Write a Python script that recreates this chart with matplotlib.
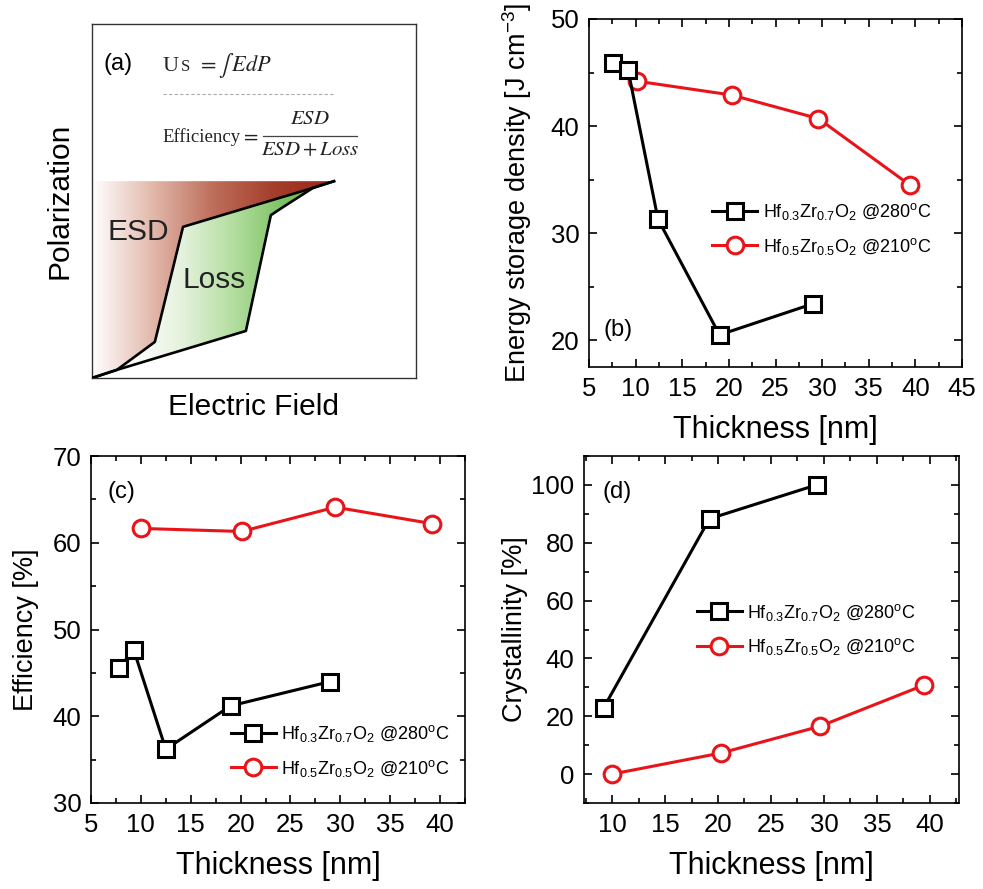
import numpy as np
import matplotlib
matplotlib.use("Agg")
from matplotlib import pyplot as plt
from matplotlib.patches import Polygon
from matplotlib.colors import LinearSegmentedColormap
from matplotlib.ticker import MultipleLocator

plt.rcParams['font.family'] = ['Liberation Sans', 'DejaVu Sans']
plt.rcParams['mathtext.fontset'] = 'custom'
plt.rcParams['mathtext.rm'] = 'Liberation Sans'
plt.rcParams['mathtext.it'] = 'Liberation Sans:italic'
plt.rcParams['mathtext.bf'] = 'Liberation Sans:bold'

# Sketch of the P-E loop (axes units 0..1)
upper_e = [0.0, 0.077, 0.194, 0.281, 0.682, 0.747]
upper_p = [0.0, 0.023, 0.102, 0.427, 0.537, 0.556]
lower_e = [0.747, 0.682, 0.59, 0.552, 0.475, 0.077, 0.0]
lower_p = [0.556, 0.537, 0.483, 0.460, 0.133, 0.023, 0.0]

# Hf0.3Zr0.7O2 @280C
t_hzo37 = [7.6, 9.2, 12.4, 19.0, 29.0]
esd_hzo37 = [45.9, 45.2, 31.3, 20.5, 23.4]
t_hzo37_eff = [7.8, 9.3, 12.5, 19.0, 29.0]
eff_hzo37 = [45.6, 47.6, 36.2, 41.2, 44.0]
t_hzo37_cr = [9.2, 19.2, 29.3]
cr_hzo37 = [22.9, 88.3, 100.0]

# Hf0.5Zr0.5O2 @210C
t_hzo55 = [10.1, 20.3, 29.6, 39.4]
esd_hzo55 = [44.2, 42.9, 40.7, 34.5]
t_hzo55_eff = [10.0, 20.1, 29.5, 39.2]
eff_hzo55 = [61.65, 61.3, 64.1, 62.2]
t_hzo55_cr = [10.0, 20.3, 29.6, 39.4]
cr_hzo55 = [0.0, 7.3, 16.5, 30.7]

lab37 = r'Hf$_{0.3}$Zr$_{0.7}$O$_2$ @280$^{\mathrm{o}}$C'
lab55 = r'Hf$_{0.5}$Zr$_{0.5}$O$_2$ @210$^{\mathrm{o}}$C'

red = '#e8141a'
W, H = 983, 889
fig = plt.figure(figsize=(W/100, H/100), dpi=100)

def px_axes(x0, y0, x1, y1):
    return fig.add_axes([x0/W, 1-y1/H, (x1-x0)/W, (y1-y0)/H])

def style(ax):
    ax.tick_params(which='both', direction='in', top=True, right=True,
                   labelsize=18.5, width=1.2, pad=7)
    ax.tick_params(which='major', length=6)
    ax.tick_params(which='minor', length=3.5)
    for s in ax.spines.values():
        s.set_linewidth(1.2)

def plot_pair(ax, x1, y1, x2, y2):
    ax.plot(x1, y1, '-s', color='black', lw=2.2, ms=11, mfc='white',
            mec='black', mew=2.2, label=lab37, zorder=3)
    ax.plot(x2, y2, '-o', color=red, lw=2.2, ms=12, mfc='white',
            mec=red, mew=2.2, label=lab55, zorder=2)

def add_legend(ax, x, y):
    ax.legend(loc='center left', bbox_to_anchor=(x, y), frameon=False,
              fontsize=13, handlelength=2.5, handletextpad=0.3,
              borderpad=0, borderaxespad=0, labelspacing=0.75)

# (a) schematic
ax = px_axes(92, 24, 416, 378)
ax.set_xticks([])
ax.set_yticks([])
for s in ax.spines.values():
    s.set_linewidth(1.0)
    s.set_color('#333333')

tip_e, tip_p = upper_e[-1], upper_p[-1]
esd_poly = Polygon(list(zip(upper_e, upper_p)) + [(0, tip_p)], closed=True,
                   fc='none', ec='none', transform=ax.transData)
loss_poly = Polygon(list(zip(upper_e, upper_p)) + list(zip(lower_e, lower_p)),
                    closed=True, fc='none', ec='none', transform=ax.transData)
ax.add_patch(esd_poly)
ax.add_patch(loss_poly)

grad = np.linspace(0, 1, 256).reshape(1, -1)
red_cmap = LinearSegmentedColormap.from_list(
    'esd', ['#ffffff', '#e2b8ab', '#bd6e5a', '#a53e2c', '#9a2418'])
green_cmap = LinearSegmentedColormap.from_list(
    'loss', ['#ffffff', '#e4f2dd', '#b4dea0', '#7cc263', '#62b048'])
im1 = ax.imshow(grad, extent=[0, tip_e, 0, tip_p], cmap=red_cmap,
                aspect='auto', zorder=1)
im1.set_clip_path(esd_poly)
im2 = ax.imshow(grad, extent=[0.12, tip_e, 0, tip_p], cmap=green_cmap,
                aspect='auto', zorder=1)
im2.set_clip_path(loss_poly)
ax.set_xlim(0, 1)
ax.set_ylim(0, 1)

ax.plot(upper_e, upper_p, color='black', lw=1.9, zorder=3)
ax.plot(lower_e, lower_p, color='black', lw=1.9, zorder=3)

# formulas
serif = dict(family='Liberation Serif', math_fontfamily='stix', color='#222222')
ax.text(0.035, 0.887, '(a)', fontsize=17, va='center')
ax.text(0.219, 0.867, 'U', fontsize=16, va='baseline', **serif)
ax.text(0.274, 0.867, 'S', fontsize=12, va='baseline', **serif)
ax.text(0.325, 0.867, r'$= \int\, EdP$', fontsize=16, va='baseline', **serif)
ax.plot([0.219, 0.744], [0.802, 0.802], ls=(0, (3, 2)), color='#aaaaaa', lw=0.8)
ax.text(0.216, 0.667, 'Efficiency', fontsize=13.5, va='baseline', **serif)
ax.text(0.486, 0.667, r'$=$', fontsize=15, ha='center', va='baseline', **serif)
ax.plot([0.528, 0.818], [0.684, 0.684], color='#444444', lw=0.9)
ax.text(0.673, 0.731, r'$ESD$', fontsize=15, ha='center', va='center', **serif)
ax.text(0.673, 0.641, r'$ESD + Loss$', fontsize=15, ha='center', va='center', **serif)
ax.text(0.049, 0.412, 'ESD', fontsize=21.5, va='center', color='#222222')
ax.text(0.28, 0.277, 'Loss', fontsize=21.5, va='center', color='#222222')
ax.set_xlabel('Electric Field', fontsize=21.5, labelpad=11)
ax.set_ylabel('Polarization', fontsize=21.5, labelpad=13)

# (b) energy storage density
ax = px_axes(589, 19, 962, 367)
plot_pair(ax, t_hzo37, esd_hzo37, t_hzo55, esd_hzo55)
ax.set_xlim(5, 45)
ax.set_ylim(17.5, 50)
ax.xaxis.set_major_locator(MultipleLocator(5))
ax.xaxis.set_minor_locator(MultipleLocator(2.5))
ax.yaxis.set_major_locator(MultipleLocator(10))
ax.yaxis.set_minor_locator(MultipleLocator(5))
style(ax)
ax.set_xlabel('Thickness [nm]', fontsize=22, labelpad=10)
ax.set_ylabel(r'Energy storage density [J cm$^{-3}$]', fontsize=19.5, labelpad=12)
ax.text(0.04, 0.106, '(b)', transform=ax.transAxes, fontsize=17, va='center')
add_legend(ax, 0.33, 0.397)

# (c) efficiency
ax = px_axes(91, 456, 465, 803)
plot_pair(ax, t_hzo37_eff, eff_hzo37, t_hzo55_eff, eff_hzo55)
ax.set_xlim(5, 42.5)
ax.set_ylim(30, 70)
ax.xaxis.set_major_locator(MultipleLocator(5))
ax.xaxis.set_minor_locator(MultipleLocator(2.5))
ax.yaxis.set_major_locator(MultipleLocator(10))
ax.yaxis.set_minor_locator(MultipleLocator(5))
style(ax)
ax.set_xlabel('Thickness [nm]', fontsize=22, labelpad=10)
ax.set_ylabel('Efficiency [%]', fontsize=19.5, labelpad=10)
ax.text(0.045, 0.896, '(c)', transform=ax.transAxes, fontsize=17, va='center')
add_legend(ax, 0.374, 0.15)

# (d) crystallinity
ax = px_axes(584, 456, 959, 803)
plot_pair(ax, t_hzo37_cr, cr_hzo37, t_hzo55_cr, cr_hzo55)
ax.xaxis.set_minor_locator(MultipleLocator(2.5))
ax.set_xticks([10, 15, 20, 25, 30, 35, 40])
ax.yaxis.set_minor_locator(MultipleLocator(10))
ax.set_yticks([0, 20, 40, 60, 80, 100])
ax.set_xlim(7.35, 42.75)
ax.set_ylim(-10, 110)
style(ax)
ax.set_xlabel('Thickness [nm]', fontsize=22, labelpad=10)
ax.set_ylabel('Crystallinity [%]', fontsize=19.5, labelpad=2)
ax.text(0.048, 0.896, '(d)', transform=ax.transAxes, fontsize=17, va='center')
add_legend(ax, 0.301, 0.5)

fig.savefig('out.png', dpi=100)
